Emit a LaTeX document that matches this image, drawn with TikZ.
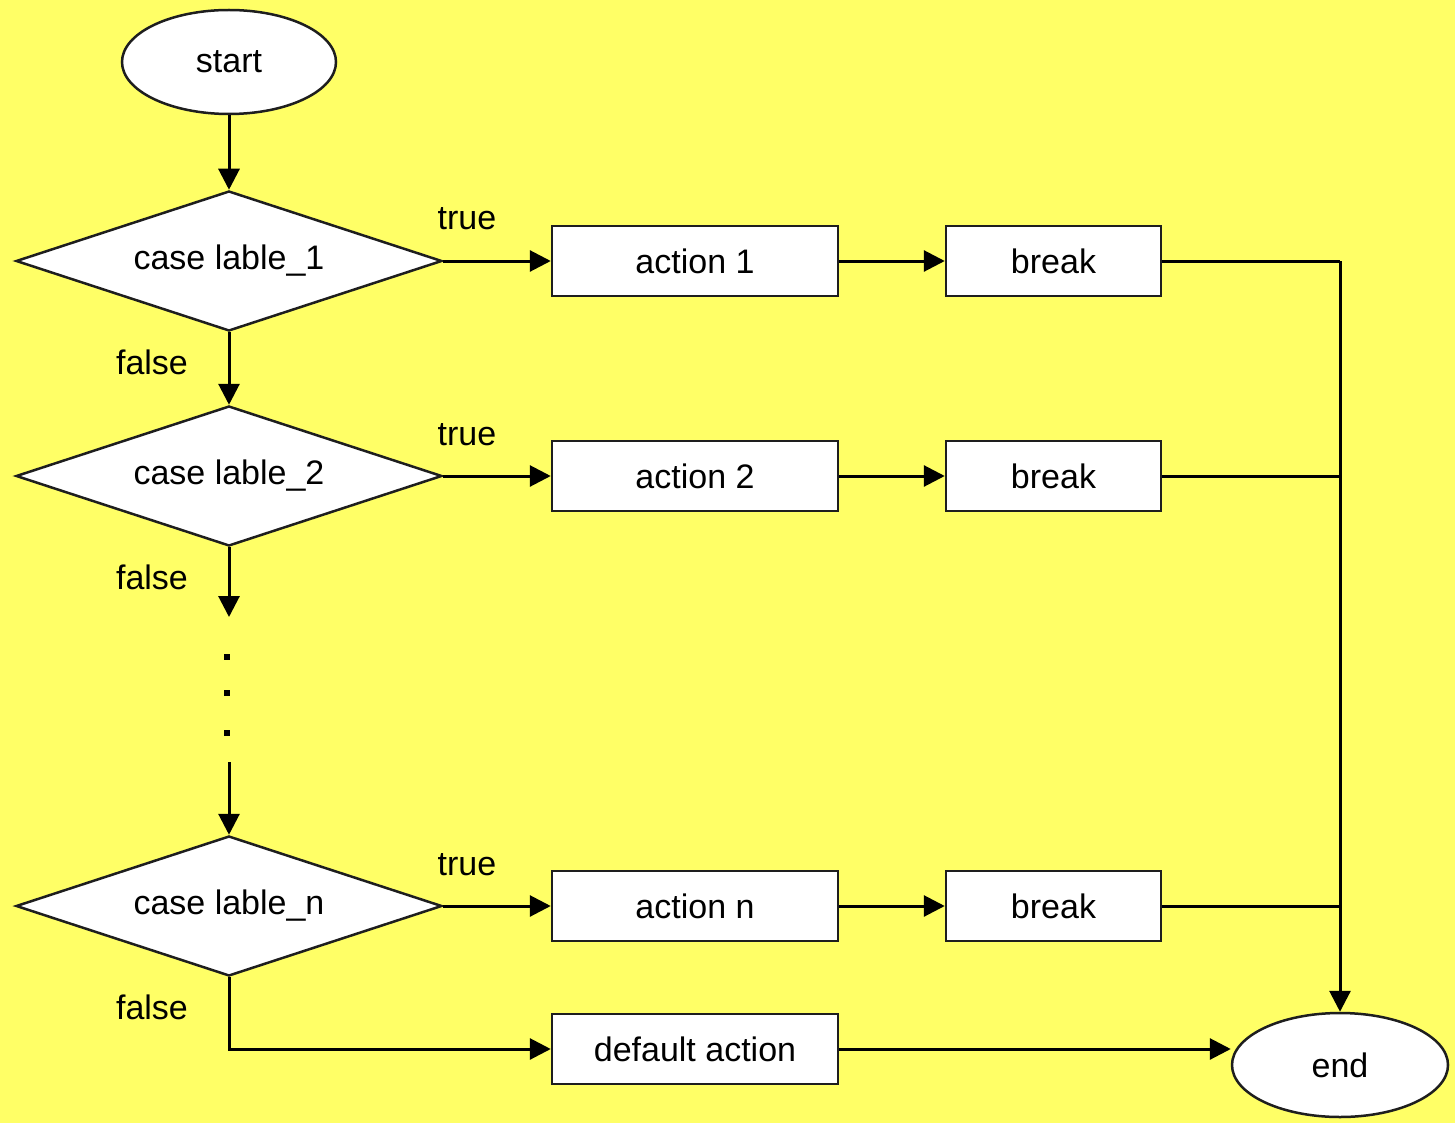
\documentclass[tikz,border=0pt]{standalone}
\usepackage{fontspec}
\setmainfont{Liberation Sans}
\usetikzlibrary{shapes.geometric,arrows.meta}
\definecolor{bgyellow}{RGB}{255,255,102}
\definecolor{edgegray}{RGB}{30,30,30}
\tikzset{
  base/.style={draw=edgegray, fill=white, line width=2.5pt, inner sep=0pt,
    font=\fontsize{34}{40}\selectfont},
  term/.style={base, ellipse},
  decide/.style={base, diamond, shape aspect=3, minimum width=426pt, minimum height=140pt},
  proc/.style={base, rectangle, minimum width=286pt, minimum height=70pt},
  brk/.style={base, rectangle, minimum width=215pt, minimum height=70pt},
  lbl/.style={font=\fontsize{34}{40}\selectfont, inner sep=0pt},
  conn/.style={line width=3pt, black},
  arr/.style={conn, -{Triangle[length=21pt,width=21pt]}},
  dotmark/.style={fill=black, inner sep=0pt, minimum size=6pt, rectangle}
}
\begin{document}
\begin{tikzpicture}[x=1pt,y=-1pt]
\fill[bgyellow] (0,0) rectangle (1455,1123);
\useasboundingbox (0,0) rectangle (1455,1123);

\node[term, minimum width=214pt, minimum height=104pt] (start) at (229,62) {start};
\node[decide] (d1) at (229,261) {case lable\_1};
\node[decide] (d2) at (229,476) {case lable\_2};
\node[decide] (dn) at (229,906) {case lable\_n};

\node[proc] (a1) at (695,261) {action 1};
\node[proc] (a2) at (695,476) {action 2};
\node[proc] (an) at (695,906) {action n};
\node[proc] (def) at (695,1049) {default action};

\node[brk] (b1) at (1053.5,261) {break};
\node[brk] (b2) at (1053.5,476) {break};
\node[brk] (bn) at (1053.5,906) {break};

\node[term, minimum width=216pt, minimum height=104pt] (end) at (1340,1065) {end};

\node[lbl] (t1) at (467,219) {true};
\node[lbl] (t2) at (467,435) {true};
\node[lbl] (tn) at (467,865) {true};
\node[lbl] (f1) at (152,362) {false};
\node[lbl] (f2) at (152,577) {false};
\node[lbl] (fn) at (152,1007) {false};

\node[dotmark] (p1) at (227,657) {};
\node[dotmark] (p2) at (227,693) {};
\node[dotmark] (p3) at (227,733) {};

\coordinate (gapa) at (229,617);
\coordinate (gapb) at (229,762);
\coordinate (j1) at (1340,261);

\draw[arr] (start.south) -- (d1.north);
\draw[arr] (d1.south) -- (d2.north);
\draw[arr] (d2.south) -- (gapa);
\draw[arr] (gapb) -- (dn.north);

\draw[arr] (d1.east) -- (a1.west);
\draw[arr] (d2.east) -- (a2.west);
\draw[arr] (dn.east) -- (an.west);

\draw[arr] (a1.east) -- (b1.west);
\draw[arr] (a2.east) -- (b2.west);
\draw[arr] (an.east) -- (bn.west);

\draw[conn] (b1.east) -- (j1);
\draw[conn] (b2.east) -- (j1 |- b2.east);
\draw[conn] (bn.east) -- (j1 |- bn.east);
\draw[arr] (j1) -- (end.north);

\draw[arr] (dn.south) |- (def.west);
\draw[arr] (def.east) -- (end.west |- def.east);
\end{tikzpicture}
\end{document}
